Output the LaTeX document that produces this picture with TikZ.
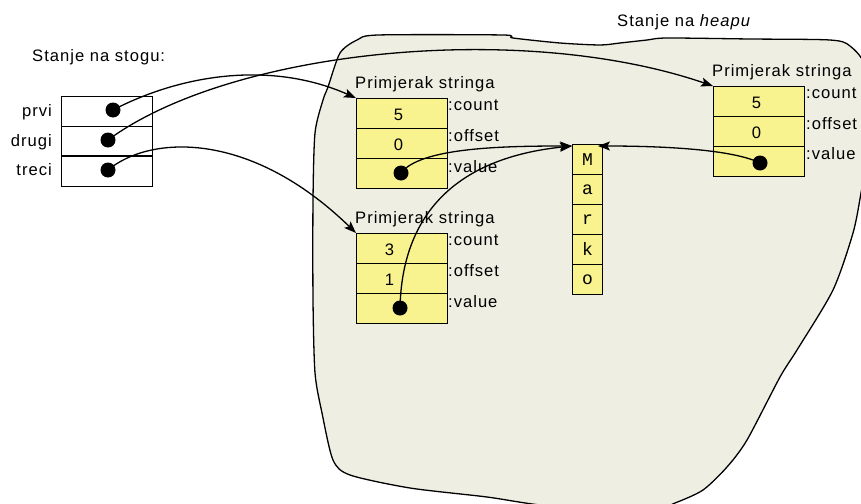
\documentclass[tikz,border=0pt]{standalone}
\usepackage{fontspec}
\setmainfont{Liberation Sans}[LetterSpace=6]
\setmonofont{Liberation Mono}
\usetikzlibrary{arrows.meta}
\definecolor{heapfill}{RGB}{239,238,226}
\definecolor{cellyellow}{RGB}{248,242,143}
\begin{document}
\begin{tikzpicture}[x=1pt,y=-1pt,
  every node/.style={font=\fontsize{16.6}{19}\selectfont},
  cell/.style={draw, fill=cellyellow, line width=1.2pt, minimum width=91pt, minimum height=30pt, inner sep=0pt, anchor=north west},
  mcell/.style={draw, fill=cellyellow, line width=0.9pt, minimum width=30pt, minimum height=30pt, inner sep=0pt, anchor=north west, font=\ttfamily\fontsize{18}{20}\selectfont},
  scell/.style={draw, fill=white, line width=1.2pt, minimum width=91pt, minimum height=30pt, inner sep=0pt, anchor=north west},
  dot/.style={circle, fill=black, inner sep=0pt, minimum size=15pt},
  ptr/.style={line width=1.3pt, -{Stealth[length=12pt,width=9pt,inset=2.5pt]}},
  hdr/.style={anchor=base west, inner sep=0pt},
  fld/.style={anchor=base west, inner sep=0pt},
  vname/.style={anchor=base east, inner sep=0pt},
]
\useasboundingbox (0,0) rectangle (861,503);
% heap blob
\begin{scope}
\clip (0,0) rectangle (861,503);
\draw[fill=heapfill, line width=1.3pt] plot[smooth cycle, tension=0.45] coordinates {
 (340,53) (357,40) (378,35) (503,35) (513,38) (560,43) (600,45) (620,43)
 (647,40) (667,38) (750,39) (830,40) (850,46) (866,70) (868,150) (861,193)
 (853,233) (833,290) (797,350) (780,377) (747,440) (727,467) (703,490)
 (675,503) (640,515) (540,505) (487,497) (410,488) (350,475) (333,460)
 (322,413) (315,373) (313,300) (313,200) (315,133) (323,100) (328,87)};
\end{scope}
\node[hdr] (heaplbl) at (617,26.5) {Stanje na \textit{heapu}};

% stack
\node[hdr] (stoglbl) at (32,61) {Stanje na stogu:};
\node[scell] (s1) at (61,96) {};
\node[scell] (s2) at (61,126) {};
\node[scell] (s3) at (61,156) {};
\draw[line width=2pt] (s3.north west) -- (s3.north east);
\node[vname] (n1) at (52,116) {prvi};
\node[vname] (n2) at (52,146) {drugi};
\node[vname] (n3) at (52,175) {treci};

% object 1
\node[hdr] (h1) at (355,88.3) {Primjerak stringa};
\node[cell] (a1) at (356,98) {};
\node[cell] (b1) at (356,128) {};
\node[cell] (c1) at (356,158) {};
\node[fld] (fa1) at (448,110.5) {:count};
\node[fld] (fb1) at (448,141.5) {:offset};
\node[fld] (fc1) at (448,172) {:value};
\node (va1) at ([xshift=-3.5pt,yshift=-1.5pt]a1.center) {5};
\node (vb1) at ([xshift=-3.5pt,yshift=-1.5pt]b1.center) {0};

% object 2
\node[hdr] (h2) at (355,223) {Primjerak stringa};
\node[cell] (a2) at (356,233) {};
\node[cell] (b2) at (356,263) {};
\node[cell] (c2) at (356,293) {};
\node[fld] (fa2) at (448,245.5) {:count};
\node[fld] (fb2) at (448,276.5) {:offset};
\node[fld] (fc2) at (448,307) {:value};
\node (va2) at ([xshift=-12.5pt,yshift=-1.5pt]a2.center) {3};
\node (vb2) at ([xshift=-12.5pt,yshift=-1.5pt]b2.center) {1};

% object 3
\node[hdr] (h3) at (712,76) {Primjerak stringa};
\node[cell] (a3) at (713,86) {};
\node[cell] (b3) at (713,116) {};
\node[cell] (c3) at (713,146) {};
\node[fld] (fa3) at (806,98) {:count};
\node[fld] (fb3) at (806,129) {:offset};
\node[fld] (fc3) at (806,159.5) {:value};
\node (va3) at ([xshift=-2.5pt,yshift=-1.5pt]a3.center) {5};
\node (vb3) at ([xshift=-2.5pt,yshift=-1.5pt]b3.center) {0};

% char array
\node[mcell] (m1) at (572,144) {M};
\node[mcell] (m2) at (572,174) {a};
\node[mcell] (m3) at (572,204) {r};
\node[mcell] (m4) at (572,234) {k};
\node[mcell] (m5) at (572,264) {o};

% dots
\node[dot] (p1) at (113,110) {};
\node[dot] (p2) at (108,140) {};
\node[dot] (p3) at (108,170) {};
\node[dot] (d1) at (401,173) {};
\node[dot] (d2) at (400,308) {};
\node[dot] (d3) at (760,163) {};

% connectors
\draw[ptr] (p1.center) .. controls (180,75) and (270,60) .. (a1.north west);
\draw[ptr] (p2.center) .. controls (230,50) and (520,20) .. (a3.north west);
\draw[ptr] (p3.center) .. controls (150,135) and (250,130) .. (a2.north west);
\draw[ptr] (d1.center) .. controls (420,148) and (500,146) .. ([yshift=-2pt]m1.north west);
\draw[ptr] (d2.center) .. controls (402,215) and (455,158) .. ([yshift=-2pt]m1.north west);
\draw[ptr] (d3.center) .. controls (730,148) and (650,146) .. ([xshift=-5pt,yshift=-2pt]m1.north east);
\end{tikzpicture}
\end{document}
